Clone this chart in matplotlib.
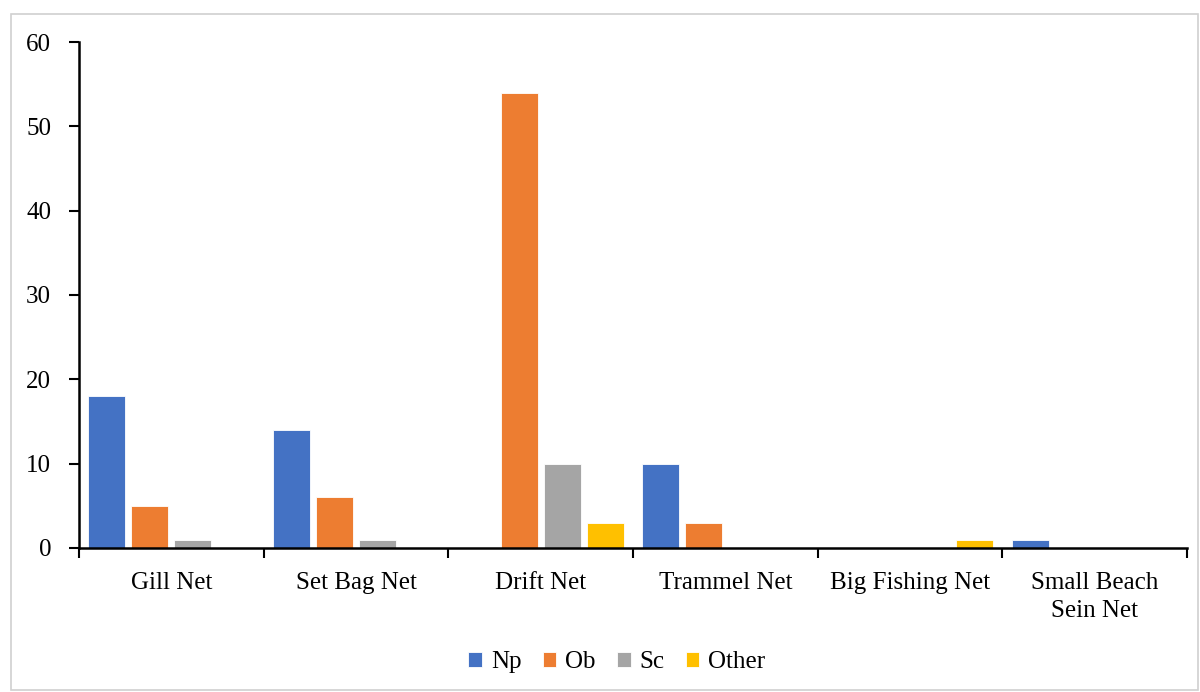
import matplotlib
matplotlib.use("Agg")
import matplotlib.pyplot as plt
from matplotlib.patches import Rectangle
import numpy as np

categories = ["Gill Net", "Set Bag Net", "Drift Net", "Trammel Net",
              "Big Fishing Net", "Small Beach\nSein Net"]
series_names = ["Np", "Ob", "Sc", "Other"]
np_vals = [18, 14, 0, 10, 0, 1]
ob_vals = [5, 6, 54, 3, 0, 0]
sc_vals = [1, 1, 10, 0, 0, 0]
other_vals = [0, 0, 3, 0, 1, 0]
colors = ["#4472C4", "#ED7D31", "#A5A5A5", "#FFC000"]
y_ticks = [0, 10, 20, 30, 40, 50, 60]

plt.rcParams["font.family"] = ["Liberation Serif", "DejaVu Serif"]

fig = plt.figure(figsize=(12, 6.92), dpi=100)
fig.patches.append(Rectangle((0.009, 0.003), 0.989, 0.977, transform=fig.transFigure,
                             fill=False, edgecolor="#D0D0D0", linewidth=1.2))
ax = fig.add_axes([0.0658, 0.2081, 0.9234, 0.7312])

x = np.arange(len(categories))
pitch = 0.233
width = 0.2
all_vals = [np_vals, ob_vals, sc_vals, other_vals]
for i, (name, vals, c) in enumerate(zip(series_names, all_vals, colors)):
    ax.bar(x + (i - 1.5) * pitch, vals, width=width, color=c, label=name,
           edgecolor="white", linewidth=0.6)

ax.set_xlim(-0.5, len(categories) - 0.5)
ax.set_ylim(0, 60)
ax.set_yticks(y_ticks)
ax.tick_params(axis="y", length=7, width=1.5, labelsize=18, pad=13)

# category labels centered, boundary tick marks between groups
ax.set_xticks(x)
ax.set_xticklabels(categories, fontsize=18, linespacing=1.4)
ax.tick_params(axis="x", which="major", length=0, pad=17)
ax.set_xticks(np.arange(-0.5, len(categories), 1.0), minor=True)
ax.tick_params(axis="x", which="minor", length=7, width=1.5)

for s in ["top", "right"]:
    ax.spines[s].set_visible(False)
for s in ["left", "bottom"]:
    ax.spines[s].set_linewidth(1.8)

fig.legend(loc="center", bbox_to_anchor=(0.514, 0.043), ncol=4, frameon=False,
           fontsize=18, handlelength=0.55, handleheight=0.55, handletextpad=0.35,
           columnspacing=0.85)

fig.savefig("out.png", dpi=100)
